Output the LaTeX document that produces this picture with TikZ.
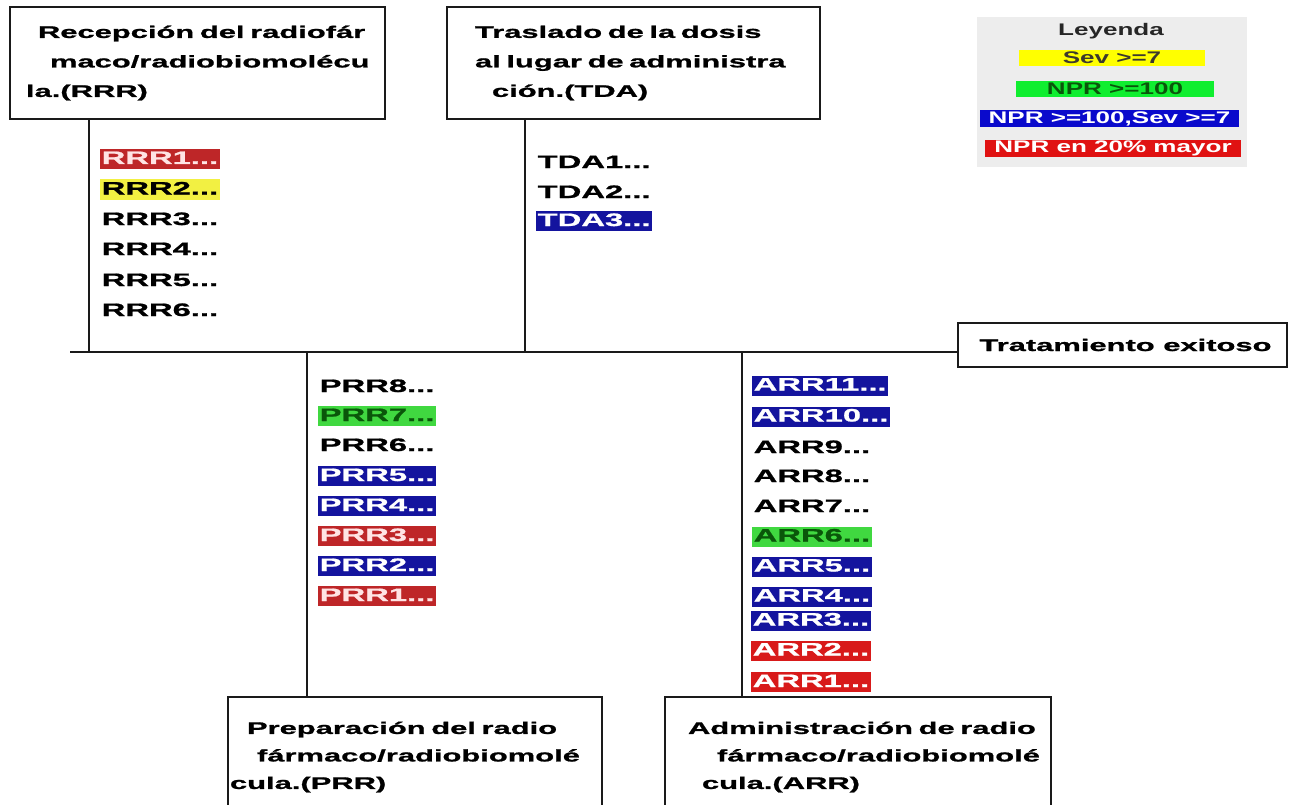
\documentclass[tikz,border=0pt]{standalone}
\usepackage{fontspec}
\newfontfamily\ttlfont{Liberation Sans}[FakeStretch=1.84,FakeBold=1.2]
\newfontfamily\itmfont{Liberation Sans}[FakeStretch=1.82,FakeBold=1.2]
\newfontfamily\lgdfont{Liberation Sans}[FakeStretch=1.55]
\definecolor{lnc}{HTML}{1A1A1A}
\definecolor{dred}{HTML}{BE2628}
\definecolor{bred}{HTML}{D81A1A}
\definecolor{nblue}{HTML}{14149E}
\definecolor{igreen}{HTML}{40D840}
\definecolor{dgreen}{HTML}{0A560A}
\definecolor{iyellow}{HTML}{F2F042}
\definecolor{lgbg}{HTML}{EDEDED}
\definecolor{lyellow}{HTML}{FFFF00}
\definecolor{lgreen}{HTML}{10EE30}
\definecolor{lblue}{HTML}{0A0ACC}
\definecolor{lred}{HTML}{E01212}
\definecolor{pinkw}{HTML}{FFE4E4}
\tikzset{
  line/.style={draw=lnc, line width=1.5pt},
  titlebox/.style={draw=lnc, line width=1.5pt, fill=white, align=left, inner xsep=5pt,
    font=\ttlfont\bfseries\fontsize{16.8}{29.5}\selectfont},
  lowbox/.style={titlebox, inner xsep=2pt, font=\ttlfont\bfseries\fontsize{16.8}{27.5}\selectfont},
  itm/.style={anchor=west, inner xsep=1.5pt, inner ysep=2pt, text height=13pt, text depth=3pt,
    font=\itmfont\bfseries\fontsize{18}{20}\selectfont, text=black},
  itmred/.style={itm, fill=dred, text=pinkw},
  itmbred/.style={itm, fill=bred, text=white},
  itmblue/.style={itm, fill=nblue, text=white},
  itmgreen/.style={itm, fill=igreen, text=dgreen},
  itmyellow/.style={itm, fill=iyellow, text=black},
  lgd/.style={inner sep=0pt, font=\lgdfont\bfseries\fontsize{16.8}{20}\selectfont}
}
\begin{document}
\begin{tikzpicture}[x=1pt,y=-1pt]
\useasboundingbox[fill=white] (0,0) rectangle (1292,805);
\clip (0,0) rectangle (1292,805);

% title boxes
\node[titlebox, minimum width=375pt, minimum height=112pt, text width=365pt] (rrr) at (197.5,63)
  {\hspace*{23pt}Recepción del radiofár\\\hspace*{35pt}maco/radiobiomolécu\\\hspace*{11pt}la.(RRR)};
\node[titlebox, minimum width=373pt, minimum height=112pt, text width=363pt] (tda) at (633.5,63)
  {\hspace*{23pt}Traslado de la dosis\\\hspace*{23pt}al lugar de administra\\\hspace*{40pt}ción.(TDA)};
\node[lowbox, minimum width=374pt, minimum height=120pt, text width=370pt] (prr) at (415,757)
  {\hspace*{17pt}Preparación del radio\\\hspace*{27pt}fármaco/radiobiomolé\\cula.(PRR)};
\node[lowbox, minimum width=386pt, minimum height=120pt, text width=382pt] (arr) at (858,757)
  {\hspace*{21pt}Administración de radio\\\hspace*{50pt}fármaco/radiobiomolé\\\hspace*{35pt}cula.(ARR)};
\node[draw=lnc, line width=1.5pt, fill=white, minimum width=329pt, minimum height=44pt,
  font=\ttlfont\bfseries\fontsize{16.8}{20}\selectfont] (trat) at (1122.5,345) {\hspace*{6pt}Tratamiento exitoso};

% spine and branches
\coordinate (ls) at (70,352);
\coordinate (j1) at (89,352);
\coordinate (j2) at (525,352);
\coordinate (j3) at (307,352);
\coordinate (j4) at (742,352);
\draw[line] (ls) -- (ls -| trat.west);
\draw[line] (j1 |- rrr.south) -- (j1);
\draw[line] (j2 |- tda.south) -- (j2);
\draw[line] (j3) -- (j3 |- prr.north);
\draw[line] (j4) -- (j4 |- arr.north);

% RRR items
\node[itmred] (r1) at (100,159) {RRR1...};
\node[itmyellow] (r2) at (100,189.5) {RRR2...};
\node[itm] (r3) at (100,220) {RRR3...};
\node[itm] (r4) at (100,250) {RRR4...};
\node[itm] (r5) at (100,281) {RRR5...};
\node[itm] (r6) at (100,311) {RRR6...};

% TDA items
\node[itm] (t1) at (536,163) {TDA1...};
\node[itm] (t2) at (536,193) {TDA2...};
\node[itmblue] (t3) at (536,221) {TDA3...};

% PRR items
\node[itm] (p8) at (318,387) {PRR8...};
\node[itmgreen] (p7) at (318,416) {PRR7...};
\node[itm] (p6) at (318,446) {PRR6...};
\node[itmblue] (p5) at (318,476) {PRR5...};
\node[itmblue] (p4) at (318,506) {PRR4...};
\node[itmred] (p3) at (318,536) {PRR3...};
\node[itmblue] (p2) at (318,566) {PRR2...};
\node[itmred] (p1) at (318,596) {PRR1...};

% ARR items
\node[itmblue] (a11) at (752,385.5) {ARR11...};
\node[itmblue] (a10) at (752,416.5) {ARR10...};
\node[itm] (a9) at (752,448) {ARR9...};
\node[itm] (a8) at (752,477) {ARR8...};
\node[itm] (a7) at (752,507) {ARR7...};
\node[itmgreen] (a6) at (752,536.5) {ARR6...};
\node[itmblue] (a5) at (752,566.5) {ARR5...};
\node[itmblue] (a4) at (752,596.5) {ARR4...};
\node[itmblue] (a3) at (751,620.5) {ARR3...};
\node[itmbred] (a2) at (751,650.5) {ARR2...};
\node[itmbred] (a1) at (751,682) {ARR1...};

% legend
\node[fill=lgbg, minimum width=270pt, minimum height=150pt, inner sep=0pt] (lg) at (1112,92) {};
\node[lgd, text=black!85] (lgt) at (1111,31) {Leyenda};
\node[lgd, fill=lyellow, text=black!75!olive, minimum width=186pt, minimum height=16pt] (lg1) at (1112,58) {Sev >=7};
\node[lgd, fill=lgreen, text=dgreen, minimum width=198pt, minimum height=16pt] (lg2) at (1115,89) {NPR >=100};
\node[lgd, fill=lblue, text=white, minimum width=259pt, minimum height=17pt] (lg3) at (1109.5,118.5) {NPR >=100,Sev >=7};
\node[lgd, fill=lred, text=white, minimum width=256pt, minimum height=17pt] (lg4) at (1113,148.5) {NPR en 20\% mayor};
\end{tikzpicture}
\end{document}
